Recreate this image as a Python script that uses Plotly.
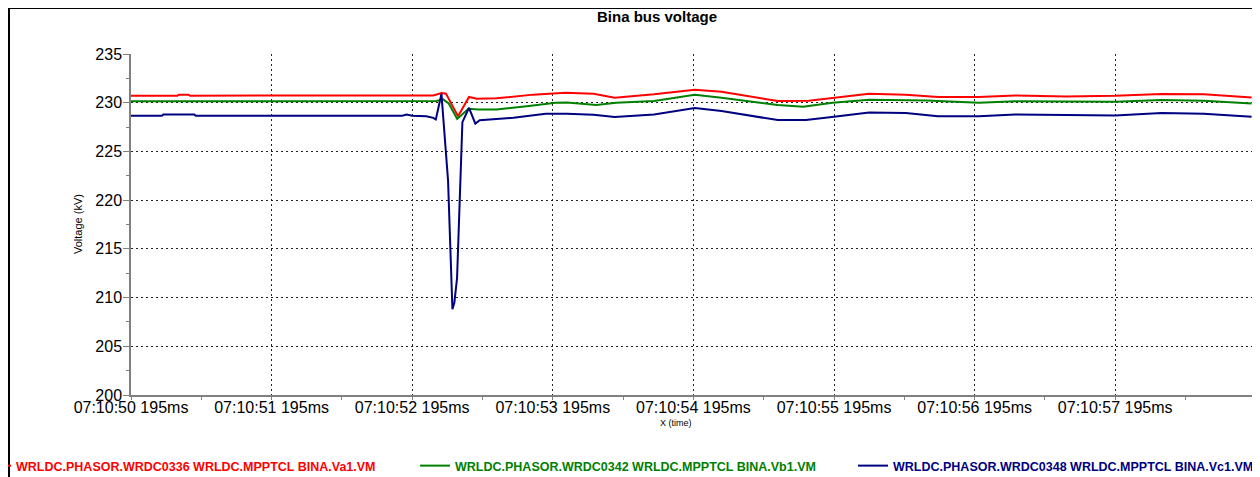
import plotly.graph_objects as go

# ---- data (seconds after 07:10:50.195) ----
tick_seconds = [0, 1, 2, 3, 4, 5, 6, 7]
tick_labels = ["07:10:50 195ms", "07:10:51 195ms", "07:10:52 195ms", "07:10:53 195ms",
               "07:10:54 195ms", "07:10:55 195ms", "07:10:56 195ms", "07:10:57 195ms"]

va_t = [0, 0.33, 0.34, 0.41, 0.42, 2.15, 2.21, 2.24, 2.326, 2.404, 2.46, 2.6, 2.86, 3.09,
        3.29, 3.44, 3.72, 4.01, 4.2, 4.6, 4.82, 4.99, 5.25, 5.51, 5.74, 6.03, 6.29, 6.65,
        7.0, 7.33, 7.63, 7.97]
va_v = [230.72, 230.72, 230.82, 230.82, 230.72, 230.75, 231.0, 230.93, 228.62, 230.59, 230.41,
        230.45, 230.83, 231.03, 230.92, 230.51, 230.86, 231.34, 231.13, 230.17, 230.2, 230.51,
        230.92, 230.82, 230.58, 230.58, 230.75, 230.65, 230.72, 230.9, 230.86, 230.53]

vb_t = [0, 2.17, 2.22, 2.26, 2.32, 2.40, 2.47, 2.6, 2.83, 3.02, 3.1, 3.31, 3.45, 3.72, 4.01,
        4.2, 4.6, 4.78, 4.99, 5.25, 5.66, 6.03, 6.29, 7.0, 7.33, 7.63, 7.97]
vb_v = [230.14, 230.17, 230.34, 229.93, 228.34, 229.38, 229.31, 229.31, 229.66, 230.0, 230.03,
        229.76, 230.0, 230.17, 230.82, 230.51, 229.76, 229.59, 230.0, 230.31, 230.24, 230.0,
        230.14, 230.1, 230.29, 230.2, 229.92]

vc_t = [0, 0.22, 0.23, 0.45, 0.46, 1.93, 1.96, 2.0, 2.10, 2.15, 2.168, 2.208, 2.255, 2.286,
        2.30, 2.319, 2.357, 2.404, 2.449, 2.48, 2.72, 2.95, 3.1, 3.29, 3.44, 3.72, 4.01, 4.2,
        4.6, 4.8, 5.0, 5.25, 5.51, 5.74, 6.03, 6.29, 7.0, 7.33, 7.63, 7.97]
vc_v = [228.67, 228.67, 228.8, 228.8, 228.67, 228.67, 228.78, 228.67, 228.6, 228.45, 228.28,
        230.9, 222.0, 208.8, 209.5, 212.0, 228.0, 229.48, 227.86, 228.2, 228.45, 228.86,
        228.87, 228.77, 228.53, 228.8, 229.45, 229.14, 228.22, 228.22, 228.56, 229.0, 228.94,
        228.6, 228.6, 228.8, 228.7, 228.95, 228.87, 228.55]

names = ["WRLDC.PHASOR.WRDC0336 WRLDC.MPPTCL BINA.Va1.VM",
         "WRLDC.PHASOR.WRDC0342 WRLDC.MPPTCL BINA.Vb1.VM",
         "WRLDC.PHASOR.WRDC0348 WRLDC.MPPTCL BINA.Vc1.VM"]
colors = ["#ff0000", "#008000", "#000080"]

FONT = "Liberation Sans, Arial, sans-serif"

# The page body has an 8px default margin; work in page pixels and convert.
OFF = 8
W, H = 1260 - OFF, 477 - OFF
L, R, T, B = 131 - OFF, 1253 - OFF, 54 - OFF, 395 - OFF   # plot area in figure px
pw, ph = R - L, B - T


def px_x(page_x):
    return (page_x - OFF - L) / pw


def px_y(page_y):
    return (B - (page_y - OFF)) / ph


legend_ids = ["legend", "legend2", "legend3"]
legend_text_start = [16, 455, 893]   # page x where legend text begins

fig = go.Figure()
for t, v, n, c, lg in zip([va_t, vb_t, vc_t], [va_v, vb_v, vc_v], names, colors, legend_ids):
    fig.add_trace(go.Scatter(x=t, y=v, name=n, mode="lines", legend=lg,
                             line=dict(color=c, width=2)))

axis_common = dict(
    showgrid=True, gridcolor="#222222", griddash="2px,3px", gridwidth=1,
    showline=True, linecolor="#808080", linewidth=1.5, zeroline=False,
    ticks="outside", tickcolor="#808080", tickwidth=1,
    tickfont=dict(family=FONT, size=16, color="black"),
)

legends = {}
for lg, start, c in zip(legend_ids, legend_text_start, colors):
    legends[lg] = dict(orientation="h", x=px_x(start - 40), xanchor="left",
                       y=px_y(466), yanchor="middle", itemwidth=30,
                       font=dict(family=FONT, size=12.5, color=c, weight="bold"),
                       bgcolor="rgba(0,0,0,0)", borderwidth=0)

fig.update_layout(
    width=W, height=H,
    margin=dict(l=L, r=W - R, t=T, b=H - B, autoexpand=False),
    paper_bgcolor="white", plot_bgcolor="white",
    title=dict(text="Bina bus voltage", x=(657 - OFF) / W, xref="container", xanchor="center",
               y=1 - (17 - OFF) / H, yref="container", yanchor="middle",
               font=dict(family=FONT, size=15, color="black", weight="bold")),
    xaxis=dict(range=[0, 7.98], tickmode="array", tickvals=tick_seconds, ticktext=tick_labels,
               ticklen=3, ticklabelstandoff=-6,
               minor=dict(ticks="outside", ticklen=3, tickcolor="#808080",
                          tickvals=[s + 0.5 for s in tick_seconds], showgrid=False),
               **axis_common),
    yaxis=dict(range=[200, 235], tickmode="linear", tick0=200, dtick=5,
               ticklen=6, ticklabelstandoff=-2,
               minor=dict(ticks="outside", ticklen=3, tickcolor="#808080", dtick=2.5,
                          showgrid=False),
               **axis_common),
    showlegend=True,
    annotations=[
        dict(text="Voltage (kV)", x=px_x(78), y=px_y(224), xref="paper", yref="paper",
             textangle=-90, showarrow=False, xanchor="center", yanchor="middle",
             font=dict(family=FONT, size=11, color="black")),
        dict(text="X (time)", x=px_x(676), y=px_y(423), xref="paper", yref="paper",
             showarrow=False, xanchor="center", yanchor="middle",
             font=dict(family=FONT, size=9, color="black")),
    ],
    shapes=[
        dict(type="rect", xref="paper", yref="paper", x0=px_x(9), x1=px_x(1256),
             y0=px_y(520), y1=px_y(8), line=dict(color="black", width=2), layer="above"),
    ],
    **legends,
)

fig.write_html("out.html")
